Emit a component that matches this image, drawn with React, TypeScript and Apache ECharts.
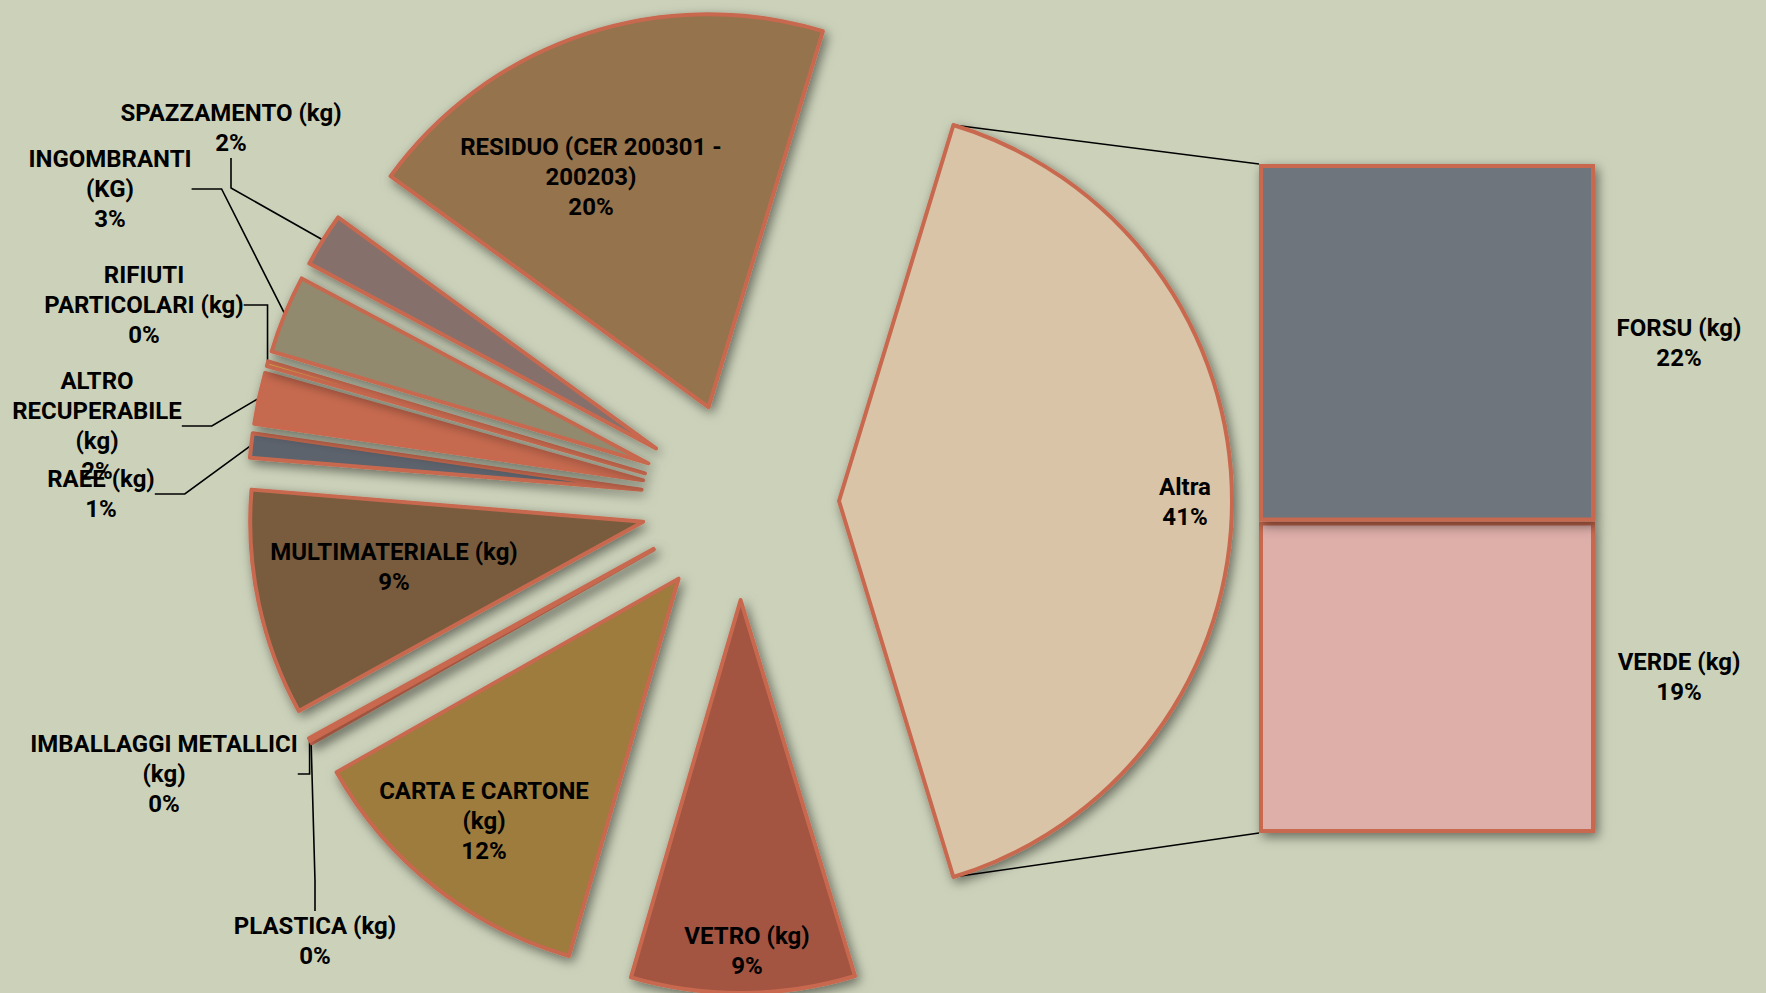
import React, { useEffect, useRef } from 'react';
import * as echarts from 'echarts';

// ---- data ----
const barNames = ['FORSU (kg)', 'VERDE (kg)'];
const barValues = [21.7, 18.9];

const pieNames = [
  'Altra',
  'VETRO (kg)',
  'CARTA E CARTONE (kg)',
  'PLASTICA (kg)',
  'IMBALLAGGI METALLICI (kg)',
  'MULTIMATERIALE (kg)',
  'RAEE (kg)',
  'ALTRO RECUPERABILE (kg)',
  'RIFIUTI PARTICOLARI (kg)',
  'INGOMBRANTI (KG)',
  'SPAZZAMENTO (kg)',
  'RESIDUO (CER 200301 - 200203)',
];
// first value (Altra) is the sum of the bar values
const pieOwnValues = [9.2, 12.3, 0.1, 0.1, 9.3, 1.0, 2.1, 0.2, 3.2, 2.2, 19.7];

// wrapped label texts as in the reference
const pieLabelText = [
  'Altra',
  'VETRO (kg)',
  'CARTA E CARTONE\n(kg)',
  'PLASTICA (kg)',
  'IMBALLAGGI METALLICI\n(kg)',
  'MULTIMATERIALE (kg)',
  'RAEE (kg)',
  'ALTRO\nRECUPERABILE\n(kg)',
  'RIFIUTI\nPARTICOLARI (kg)',
  'INGOMBRANTI\n(KG)',
  'SPAZZAMENTO (kg)',
  'RESIDUO (CER 200301 -\n200203)',
];

// ---- styles / layout ----
const pieColors = [
  '#D9C4A7', '#A35542', '#9E7B3C', '#B5905A', '#8C6A48', '#785C3E',
  '#5C636D', '#C66A50', '#D0A040', '#918A6E', '#86706C', '#94734E',
];
const barColors = ['#6E747C', '#DEAEA9'];
const outsideLabel = [false, false, false, true, true, false, true, true, true, true, true, false];
const labelPos: [number, number][] = [
  [1185, 502], [747, 951], [484, 821], [315, 941], [164, 774], [394, 567],
  [101, 494], [97, 426], [144, 305], [110, 189], [231, 128], [591, 177],
];

const BG = '#CCD2BA';
const BORDER = '#C8694F';
const CX = 740;
const CY = 501;
const R = 393;
const OFFSET = 99;
const GRID_LEFT = 1259;
const GRID_TOP = 164;
const GRID_W = 336;
const GRID_H = 669;
const FONT = '"Roboto", sans-serif';

export default function App() {
  const ref = useRef<HTMLDivElement>(null);
  useEffect(() => {
    document.body.style.margin = '0';
    const chart = echarts.init(ref.current!, undefined, { renderer: 'svg' });

    const altra = barValues.reduce((a, b) => a + b, 0);
    const pieValues = [altra, ...pieOwnValues];
    const total = pieValues.reduce((a, b) => a + b, 0);
    const pct = (v: number) => Math.round((v / total) * 100) + '%';
    const startAngle = (altra / total) * 180;

    const a = (startAngle * Math.PI) / 180;
    const topX = CX + OFFSET + R * Math.cos(a);
    const topY = CY - R * Math.sin(a);
    const botY = CY + R * Math.sin(a);

    const shadow = {
      shadowBlur: 12,
      shadowColor: 'rgba(0,0,0,0.5)',
      shadowOffsetX: 3,
      shadowOffsetY: 4,
    };
    const labelStyle = {
      color: '#000',
      fontFamily: FONT,
      fontWeight: 'bold' as const,
      fontSize: 24,
      lineHeight: 30,
    };

    // one pie series per exploded slice, each shifted along its bisector
    let cum = 0;
    const pieSeries = pieValues.map((v, k) => {
      const mid = startAngle - ((cum + v / 2) / total) * 360;
      cum += v;
      const m = (mid * Math.PI) / 180;
      const cx = CX + OFFSET * Math.cos(m);
      const cy = CY - OFFSET * Math.sin(m);
      return {
        type: 'pie',
        center: [cx, cy],
        radius: R,
        startAngle,
        clockwise: true,
        avoidLabelOverlap: false,
        emphasis: { disabled: true },
        silent: true,
        z: 2,
        label: {
          show: true,
          position: 'outside',
          align: 'center',
          ...labelStyle,
          formatter: (p: any) => pieLabelText[p.dataIndex] + '\n' + pct(p.value),
        },
        labelLine: { show: true, lineStyle: { color: '#000', width: 1.6 } },
        labelLayout: (p: any) =>
          p.dataIndex === k
            ? {
                x: labelPos[k][0],
                y: labelPos[k][1],
                align: 'center',
                verticalAlign: 'middle',
              }
            : {},
        data: pieNames.map((n, i) =>
          i === k
            ? {
                name: n,
                value: pieValues[i],
                itemStyle: { color: pieColors[i], borderColor: BORDER, borderWidth: 4, ...shadow },
                labelLine: { show: outsideLabel[i] },
              }
            : {
                name: n,
                value: pieValues[i],
                itemStyle: { color: 'rgba(0,0,0,0)', borderWidth: 0, shadowBlur: 0 },
                label: { show: false },
                labelLine: { show: false },
              }
        ),
      };
    });

    const option: any = {
      animation: false,
      backgroundColor: BG,
      grid: { left: GRID_LEFT, top: GRID_TOP, width: GRID_W, height: GRID_H, containLabel: false },
      xAxis: { type: 'category', data: ['Altra'], show: false },
      yAxis: { type: 'value', min: 0, max: altra, show: false },
      graphic: [
        { type: 'line', z: 0, shape: { x1: topX, y1: topY, x2: GRID_LEFT, y2: GRID_TOP }, style: { stroke: '#000', lineWidth: 1.6 } },
        { type: 'line', z: 0, shape: { x1: topX, y1: botY, x2: GRID_LEFT, y2: GRID_TOP + GRID_H }, style: { stroke: '#000', lineWidth: 1.6 } },
      ],
      series: [
        ...pieSeries,
        ...[1, 0].map((i) => ({
          type: 'bar',
          name: barNames[i],
          stack: 'altra',
          barWidth: '100%',
          data: [barValues[i]],
          itemStyle: { color: barColors[i], borderColor: BORDER, borderWidth: 4, ...shadow },
          emphasis: { disabled: true },
          label: {
            show: true,
            position: ['125%', '50%'],
            align: 'center',
            verticalAlign: 'middle',
            ...labelStyle,
            formatter: () => barNames[i] + '\n' + pct(barValues[i]),
          },
        })),
      ],
    };
    chart.setOption(option);
    return () => chart.dispose();
  }, []);
  return <div ref={ref} style={{ width: 1766, height: 993 }} />;
}
